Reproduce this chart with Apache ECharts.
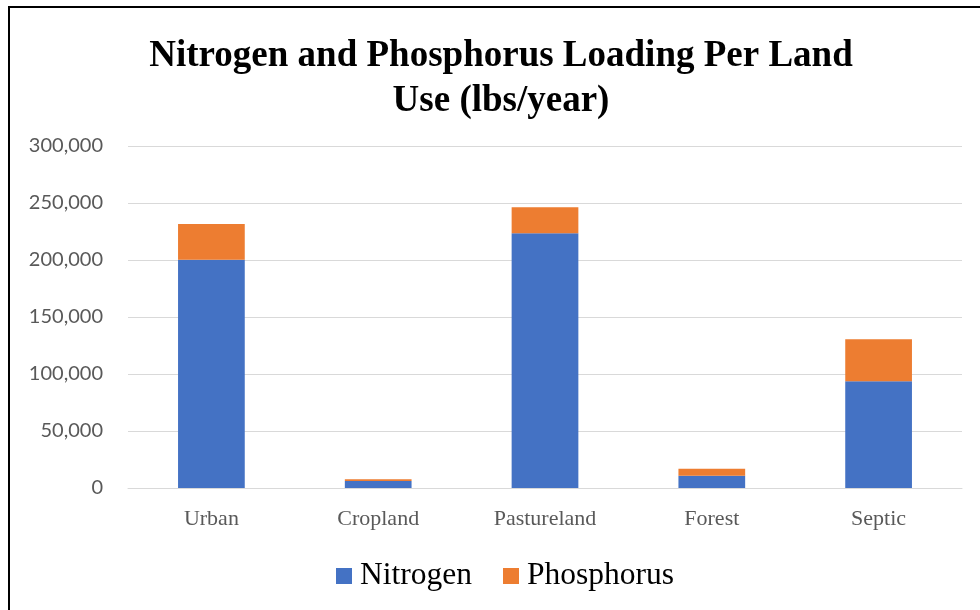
<!DOCTYPE html>
<html>
<head>
<meta charset="utf-8">
<script src="https://cdn.jsdelivr.net/npm/echarts@6/dist/echarts.min.js"></script>
<style>
  body { margin: 0; background: #fff; overflow: hidden; }
  #frame { position: absolute; left: 8px; top: 6px; width: 1000px; height: 640px; border: 2px solid #000; }
  #main { position: absolute; left: 0; top: 0; width: 980px; height: 610px; }
</style>
</head>
<body>
<div id="frame"></div>
<div id="main"></div>
<script>
  var categories = ['Urban', 'Cropland', 'Pastureland', 'Forest', 'Septic'];
  var nitrogen = [200300, 6200, 223400, 10800, 93600];
  var phosphorus = [31300, 1500, 22800, 6000, 36800];

  var myChart = echarts.init(document.getElementById('main'));

  myChart.setOption({
    animation: false,
    title: {
      text: 'Nitrogen and Phosphorus Loading Per Land\nUse (lbs/year)',
      left: 496,
      top: 29,
      textAlign: 'center',
      textStyle: {
        fontFamily: 'Liberation Serif',
        fontWeight: 'bold',
        fontSize: 37,
        lineHeight: 45,
        color: '#000'
      }
    },
    legend: {
      data: ['Nitrogen', 'Phosphorus'],
      left: 331,
      top: 555,
      itemWidth: 16,
      itemHeight: 16,
      itemGap: 31,
      icon: 'rect',
      textStyle: {
        fontFamily: 'Liberation Serif',
        fontSize: 31.5,
        color: '#000',
        padding: [0, 0, 0, 3]
      }
    },
    grid: {
      left: 128,
      right: 18,
      top: 146,
      bottom: 122,
      containLabel: false
    },
    xAxis: {
      type: 'category',
      data: categories,
      axisTick: { show: false },
      axisLine: { lineStyle: { color: '#D9D9D9', width: 1 } },
      axisLabel: {
        fontFamily: 'Liberation Serif',
        fontSize: 22,
        color: '#595959',
        margin: 20
      }
    },
    yAxis: {
      type: 'value',
      min: 0,
      max: 300000,
      interval: 50000,
      axisLine: { show: false },
      axisTick: { show: false },
      splitLine: { lineStyle: { color: '#D9D9D9', width: 1 } },
      axisLabel: {
        fontFamily: 'Lato',
        fontSize: 20,
        color: '#595959',
        margin: 25,
        formatter: function (v) { return v.toLocaleString('en-US'); }
      }
    },
    series: [{
      name: 'Nitrogen',
      type: 'bar',
      stack: 'total',
      barWidth: '40%',
      data: nitrogen,
      itemStyle: { color: '#4472C4' }
    }, {
      name: 'Phosphorus',
      type: 'bar',
      stack: 'total',
      barWidth: '40%',
      data: phosphorus,
      itemStyle: { color: '#ED7D31' }
    }]
  });
</script>
</body>
</html>
